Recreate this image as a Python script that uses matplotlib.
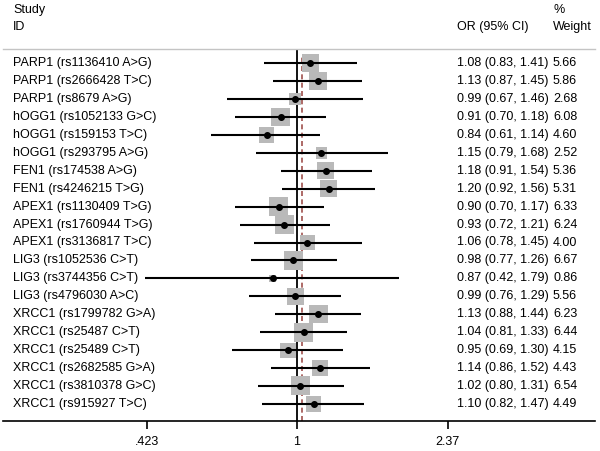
import numpy as np
import matplotlib
matplotlib.use("Agg")
import matplotlib.pyplot as plt
from matplotlib.transforms import blended_transform_factory

plt.rcParams['font.family'] = ['Liberation Sans', 'DejaVu Sans']

studies = [
    "PARP1 (rs1136410 A>G)", "PARP1 (rs2666428 T>C)", "PARP1 (rs8679 A>G)",
    "hOGG1 (rs1052133 G>C)", "hOGG1 (rs159153 T>C)", "hOGG1 (rs293795 A>G)",
    "FEN1 (rs174538 A>G)", "FEN1 (rs4246215 T>G)",
    "APEX1 (rs1130409 T>G)", "APEX1 (rs1760944 T>G)", "APEX1 (rs3136817 T>C)",
    "LIG3 (rs1052536 C>T)", "LIG3 (rs3744356 C>T)", "LIG3 (rs4796030 A>C)",
    "XRCC1 (rs1799782 G>A)", "XRCC1 (rs25487 C>T)", "XRCC1 (rs25489 C>T)",
    "XRCC1 (rs2682585 G>A)", "XRCC1 (rs3810378 G>C)", "XRCC1 (rs915927 T>C)",
]
or_vals = [1.08, 1.13, 0.99, 0.91, 0.84, 1.15, 1.18, 1.20, 0.90, 0.93, 1.06,
           0.98, 0.87, 0.99, 1.13, 1.04, 0.95, 1.14, 1.02, 1.10]
ci_low = [0.83, 0.87, 0.67, 0.70, 0.61, 0.79, 0.91, 0.92, 0.70, 0.72, 0.78,
          0.77, 0.42, 0.76, 0.88, 0.81, 0.69, 0.86, 0.80, 0.82]
ci_high = [1.41, 1.45, 1.46, 1.18, 1.14, 1.68, 1.54, 1.56, 1.17, 1.21, 1.45,
           1.26, 1.79, 1.29, 1.44, 1.33, 1.30, 1.52, 1.31, 1.47]
weights = [5.66, 5.86, 2.68, 6.08, 4.60, 2.52, 5.36, 5.31, 6.33, 6.24, 4.00,
           6.67, 0.86, 5.56, 6.23, 6.44, 4.15, 4.43, 6.54, 4.49]
overall = 1.03
tick_vals = [0.423, 1, 2.37]
tick_labels = [".423", "1", "2.37"]

W, H = 600, 451
fig = plt.figure(figsize=(W / 100, H / 100), dpi=100)

def fx(px):
    return px / W

def fy(py):
    return 1 - py / H

top_px, bot_px = 49, 421
ax = fig.add_axes([fx(3), fy(bot_px), fx(595) - fx(3), (bot_px - top_px) / H])
ax.set_xscale('log')
ax.set_xlim(np.exp(-1.683), np.exp(1.706))
row0, step = 63.2, 17.93
ax.set_ylim((bot_px - row0) / step, (top_px - row0) / step)

n = len(studies)
ys = np.arange(n)

# reference lines
ax.axvline(1, color='black', lw=1.3, zorder=1)
ax.axvline(overall, ymin=0, ymax=(bot_px - 55) / (bot_px - top_px),
           color='#a0504d', lw=1.2, ls=(0, (3, 2)), zorder=1)

# squares (area proportional to weight)
side_px = 7.4 * np.sqrt(np.array(weights))
side_pt = side_px * 0.72
ax.scatter(or_vals, ys, marker='s', s=side_pt ** 2, color='#b9b9b9',
           edgecolors='none', zorder=2)
# CI lines
ax.hlines(ys, ci_low, ci_high, color='black', lw=1.5, zorder=3)
# point estimates
ax.plot(or_vals, ys, 'o', color='black', ms=4, zorder=4)

for s in ['left', 'right']:
    ax.spines[s].set_visible(False)
ax.spines['top'].set_color('#c4c4c4')
ax.spines['top'].set_linewidth(1.0)
ax.spines['bottom'].set_linewidth(1.2)
ax.set_yticks([])
ax.set_xticks(tick_vals)
ax.set_xticklabels(tick_labels)
ax.xaxis.set_minor_locator(matplotlib.ticker.NullLocator())
fs = 9
ax.tick_params(axis='x', length=6, width=1.2, pad=5, labelsize=fs)

trans = blended_transform_factory(fig.transFigure, ax.transData)
for i in range(n):
    fig.text(fx(13), i, studies[i], transform=trans, fontsize=fs, va='center', ha='left')
    fig.text(fx(457), i, f"{or_vals[i]:.2f} ({ci_low[i]:.2f}, {ci_high[i]:.2f})",
             transform=trans, fontsize=fs, va='center', ha='left')
    fig.text(fx(553), i, f"{weights[i]:.2f}", transform=trans, fontsize=fs,
             va='center', ha='left')

fig.text(fx(13), fy(10), "Study", fontsize=fs, va='center', ha='left')
fig.text(fx(13), fy(27), "ID", fontsize=fs, va='center', ha='left')
fig.text(fx(457), fy(27), "OR (95% CI)", fontsize=fs, va='center', ha='left')
fig.text(fx(553), fy(10), "%", fontsize=fs, va='center', ha='left')
fig.text(fx(553), fy(27), "Weight", fontsize=fs, va='center', ha='left')

fig.savefig("out.png", dpi=100)
